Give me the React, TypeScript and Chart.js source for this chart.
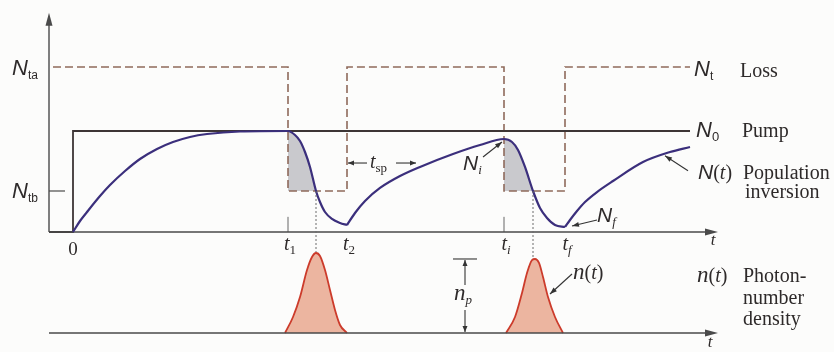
import { useEffect, useRef } from 'react';
import { Chart, registerables } from 'chart.js';

Chart.register(...registerables);

const W = 834;
const H = 352;

// ---- time marks (arbitrary time units) ----
const eventLabels = ['0', 't1', 't2', 'ti', 'tf'];
const eventTimes = [0, 10.75, 13.7, 21.55, 24.6];
const pulsePeakTimes = [12.15, 23.0];
const tEnd = 30.85;
const axisStart = -1.2;
const axisEnd = 32.25;
const yAxisTop = 2.17;

// ---- levels (relative to N0) ----
const N0 = 1.0;
const Nta = 1.634;
const Ntb = 0.406;

// ---- loss (threshold) step: value taken after each time ----
const lossTimes = [-1.0, 10.75, 13.7, 21.55, 24.6, 30.85];
const lossValues = [Nta, Ntb, Nta, Ntb, Nta, Nta];

// ---- pump step ----
const pumpTimes = [axisStart, 0, tEnd];
const pumpValues = [0, N0, N0];

// ---- population inversion N(t) ----
const inversionA: [number, number][] = [
  [0, 0], [0.35, 0.109], [0.7, 0.198], [1.35, 0.356], [1.85, 0.465], [2.6, 0.604],
  [3.35, 0.723], [4.2, 0.822], [5.0, 0.891], [5.85, 0.941], [6.7, 0.97], [8.35, 0.995],
  [10.75, 1.0], [11.1, 0.96], [11.35, 0.901], [11.6, 0.792], [11.85, 0.644],
  [12.15, 0.406], [12.35, 0.297], [12.6, 0.198], [12.95, 0.129], [13.35, 0.089], [13.7, 0.069],
];
const inversionB: [number, number][] = [
  [13.7, 0.069], [14.1, 0.188], [14.6, 0.307], [15.35, 0.436], [16.35, 0.554],
  [17.35, 0.644], [19.0, 0.772], [20.35, 0.861], [21.55, 0.921], [21.95, 0.891],
  [22.25, 0.812], [22.6, 0.644], [23.0, 0.406], [23.35, 0.238], [23.7, 0.139],
  [24.1, 0.069], [24.6, 0.05],
];
const inversionC: [number, number][] = [
  [24.6, 0.05], [24.85, 0.119], [25.2, 0.208], [25.6, 0.297], [26.2, 0.396],
  [27.0, 0.505], [28.5, 0.693], [29.85, 0.792], [30.85, 0.842],
];

// ---- photon number density n(t) (relative to n_p) ----
const pulse1: [number, number][] = [
  [10.6, 0], [11.0, 0.216], [11.35, 0.486], [11.7, 0.851], [11.95, 1.027], [12.15, 1.081],
  [12.35, 1.041], [12.6, 0.851], [12.85, 0.581], [13.1, 0.311], [13.35, 0.108], [13.7, 0],
];
const pulse2: [number, number][] = [
  [21.65, 0], [22.1, 0.216], [22.45, 0.541], [22.7, 0.811], [22.95, 0.986], [23.1, 1.0],
  [23.3, 0.946], [23.5, 0.757], [23.75, 0.486], [24.1, 0.216], [24.5, 0],
];

const CURVE = '#3b2f7c';
const LOSS = '#8e695b';
const PUMP = '#3d3535';
const AXIS = '#4a4a4a';
const TEXT = '#2e2a2a';

const SERIF = '"Liberation Serif", "DejaVu Serif", serif';
const SANS = '"Liberation Sans", "DejaVu Sans", sans-serif';
const serif = (s: number, it = false) => `${it ? 'italic ' : ''}${s}px ${SERIF}`;
const sans = (s: number, it = false) => `${it ? 'italic ' : ''}${s}px ${SANS}`;

const pts = (a: [number, number][]) => a.map(([x, y]) => ({ x, y }));
const zip = (xs: number[], ys: number[]) => xs.map((x, i) => ({ x, y: ys[i] }));

type Run = [string, string, number?];

function drawRuns(ctx: CanvasRenderingContext2D, x: number, y: number, runs: Run[], align: 'left' | 'center' = 'left') {
  ctx.textAlign = 'left';
  ctx.textBaseline = 'alphabetic';
  const widths = runs.map(([t, f]) => {
    ctx.font = f;
    return ctx.measureText(t).width;
  });
  let cx = x;
  if (align === 'center') cx -= widths.reduce((a, b) => a + b, 0) / 2;
  runs.forEach(([t, f, dy], i) => {
    ctx.font = f;
    ctx.fillText(t, cx, y + (dy || 0));
    cx += widths[i];
  });
}

function arrowHead(ctx: CanvasRenderingContext2D, x1: number, y1: number, x2: number, y2: number, len: number, hw: number) {
  const a = Math.atan2(y2 - y1, x2 - x1);
  ctx.beginPath();
  ctx.moveTo(x2, y2);
  ctx.lineTo(x2 - len * Math.cos(a) + hw * Math.sin(a), y2 - len * Math.sin(a) - hw * Math.cos(a));
  ctx.lineTo(x2 - len * Math.cos(a) - hw * Math.sin(a), y2 - len * Math.sin(a) + hw * Math.cos(a));
  ctx.closePath();
  ctx.fill();
}

function arrow(ctx: CanvasRenderingContext2D, x1: number, y1: number, x2: number, y2: number, len = 7, hw = 2.5) {
  ctx.beginPath();
  ctx.moveTo(x1, y1);
  ctx.lineTo(x2, y2);
  ctx.stroke();
  arrowHead(ctx, x1, y1, x2, y2, len, hw);
}

const overlay = {
  id: 'overlay',
  beforeDraw(chart: any) {
    const { ctx } = chart;
    ctx.save();
    ctx.fillStyle = '#fcfcfb';
    ctx.fillRect(0, 0, chart.width, chart.height);
    ctx.restore();
  },
  afterDatasetsDraw(chart: any) {
    const { ctx, scales } = chart;
    const X = (v: number) => scales.x.getPixelForValue(v);
    const Y = (v: number) => scales.y.getPixelForValue(v);
    const Y2 = (v: number) => scales.y2.getPixelForValue(v);
    ctx.save();

    // axis arrowheads
    ctx.fillStyle = AXIS;
    arrowHead(ctx, X(axisStart), Y(0), X(axisStart), Y(yAxisTop), 13, 3.5);
    arrowHead(ctx, X(axisStart), Y(0), X(axisEnd), Y(0), 13, 3.5);
    arrowHead(ctx, X(axisStart), Y2(0), X(axisEnd), Y2(0), 13, 3.5);

    // dotted lines from threshold crossing to photon peaks
    ctx.strokeStyle = '#6a6a6a';
    ctx.lineWidth = 1;
    ctx.setLineDash([2, 2]);
    const peaks = [pulse1, pulse2].map((p) => Math.max(...p.map((q) => q[1])));
    pulsePeakTimes.forEach((pt, i) => {
      ctx.beginPath();
      ctx.moveTo(X(pt), Y(Ntb));
      ctx.lineTo(X(pt), Y2(peaks[i]) - 1);
      ctx.stroke();
    });
    ctx.setLineDash([]);

    ctx.fillStyle = TEXT;
    // left labels
    drawRuns(ctx, 12, Y(Nta) + 8, [['N', sans(22, true)], ['ta', sans(12), 4]]);
    drawRuns(ctx, 12, Y(Ntb) + 7, [['N', sans(22, true)], ['tb', sans(12), 4]]);

    // right labels
    const rx = X(tEnd);
    drawRuns(ctx, rx + 4, Y(Nta) + 9, [['N', sans(22, true)], ['t', sans(12), 4]]);
    drawRuns(ctx, rx + 6, Y(N0) + 6, [['N', sans(22, true)], ['0', sans(13), 4]]);
    ctx.font = serif(20);
    ctx.fillText('Loss', rx + 50, Y(Nta) + 10);
    ctx.fillText('Pump', rx + 52, Y(N0) + 6);
    drawRuns(ctx, rx + 8, 179, [['N', sans(21, true)], ['(', serif(20)], ['t', serif(20, true)], [')', serif(20)]]);
    ctx.font = serif(20);
    ctx.fillText('Population', rx + 53, 179);
    ctx.fillText('inversion', rx + 55, 198);
    drawRuns(ctx, rx + 7, Y2(0) - 51, [['n', serif(23, true)], ['(', serif(20)], ['t', serif(20, true)], [')', serif(20)]]);
    ctx.font = serif(20);
    ctx.fillText('Photon-', rx + 53, Y2(0) - 51);
    ctx.fillText('number', rx + 53, Y2(0) - 29);
    ctx.fillText('density', rx + 53, Y2(0) - 8);

    // time labels
    eventLabels.forEach((lab, i) => {
      const x = X(eventTimes[i]);
      if (lab === '0') {
        drawRuns(ctx, x, Y(0) + 23, [['0', serif(19)]], 'center');
      } else {
        const sub = lab.slice(1);
        const subFont = /\d/.test(sub) ? serif(13) : serif(13, true);
        drawRuns(ctx, x + 2, Y(0) + 18, [['t', serif(20, true)], [sub, subFont, 4]], 'center');
      }
    });
    drawRuns(ctx, X(axisEnd) - 5, Y(0) + 13, [['t', serif(17, true)]], 'center');
    drawRuns(ctx, X(axisEnd) - 8, Y2(0) + 14, [['t', serif(17, true)]], 'center');

    // N_i and N_f
    ctx.strokeStyle = '#333';
    ctx.fillStyle = '#333';
    ctx.lineWidth = 1.1;
    const iTop = Y(0.921);
    arrow(ctx, X(eventTimes[3]) - 21, iTop + 18, X(eventTimes[3]) - 2, iTop + 3);
    arrow(ctx, X(eventTimes[4]) + 32, Y(0.05) - 7, X(eventTimes[4]) + 7, Y(0.05) - 1);
    // N(t) arrow
    arrow(ctx, X(29.6) + 23, Y(0.775) + 17, X(29.6), Y(0.775) + 2);
    // n(t) arrow
    arrow(ctx, X(23.85) + 22, Y2(0.527) - 20, X(23.85), Y2(0.527));

    ctx.fillStyle = TEXT;
    drawRuns(ctx, X(eventTimes[3]) - 41, iTop + 31, [['N', sans(21, true)], ['i', serif(13, true), 4]]);
    drawRuns(ctx, X(eventTimes[4]) + 32, Y(0.05) - 5, [['N', sans(21, true)], ['f', serif(13, true), 4]]);
    drawRuns(ctx, X(23.85) + 23, Y2(0) - 54, [['n', serif(23, true)], ['(', serif(20)], ['t', serif(20, true)], [')', serif(20)]]);

    // t_sp annotation
    ctx.strokeStyle = '#333';
    ctx.fillStyle = '#333';
    const spY = Y(0.683);
    const spL = X(eventTimes[2]) + 1;
    arrow(ctx, spL + 19, spY, spL, spY, 6, 2.5);
    arrow(ctx, spL + 48, spY, spL + 68, spY, 6, 2.5);
    ctx.fillStyle = TEXT;
    drawRuns(ctx, spL + 22, spY + 5, [['t', serif(20, true)], ['sp', serif(13), 4]]);

    // n_p annotation
    ctx.strokeStyle = '#333';
    ctx.fillStyle = '#333';
    const npX = X(19.6);
    const npTop = Y2(1.0);
    const npBot = Y2(0);
    ctx.beginPath();
    ctx.moveTo(npX - 12, npTop);
    ctx.lineTo(npX + 12, npTop);
    ctx.stroke();
    arrow(ctx, npX, npTop + 26, npX, npTop + 1, 6, 2.5);
    arrow(ctx, npX, npBot - 23, npX, npBot - 1, 6, 2.5);
    ctx.fillStyle = TEXT;
    drawRuns(ctx, npX - 11, npTop + 41, [['n', serif(23, true)], ['p', serif(13, true), 4]]);

    ctx.restore();
  },
};

export default function App() {
  const ref = useRef<HTMLCanvasElement | null>(null);

  useEffect(() => {
    document.body.style.margin = '0';
    const canvas = ref.current;
    if (!canvas) return;

    const line = (data: { x: number; y: number }[], extra: any = {}) => ({
      type: 'line',
      data,
      pointRadius: 0,
      pointHoverRadius: 0,
      borderWidth: 1.5,
      fill: false,
      tension: 0,
      ...extra,
    });
    const smooth = { cubicInterpolationMode: 'monotone' };

    const t1 = eventTimes[1];
    const ti = eventTimes[3];
    const grayA = inversionA.filter(([t]) => t >= t1 && t <= pulsePeakTimes[0]);
    const grayB = inversionB.filter(([t]) => t >= ti && t <= pulsePeakTimes[1]);

    const datasets: any[] = [
      line(pts(grayA), { ...smooth, borderWidth: 0, fill: { value: Ntb }, backgroundColor: '#c9c9cd', order: 20 }),
      line(pts(grayB), { ...smooth, borderWidth: 0, fill: { value: Ntb }, backgroundColor: '#c9c9cd', order: 20 }),
      line(pts(pulse1), { ...smooth, yAxisID: 'y2', fill: 'origin', backgroundColor: '#ecb5a0', borderColor: '#cc3b2b', borderWidth: 1.8, order: 6 }),
      line(pts(pulse2), { ...smooth, yAxisID: 'y2', fill: 'origin', backgroundColor: '#ecb5a0', borderColor: '#cc3b2b', borderWidth: 1.8, order: 6 }),
      line(zip(lossTimes, lossValues), { stepped: 'before', borderDash: [8, 4], borderColor: LOSS, borderWidth: 1.6, order: 5 }),
      line(zip(pumpTimes, pumpValues), { stepped: 'before', borderColor: PUMP, borderWidth: 1.8, order: 4 }),
      // axes
      line([{ x: axisStart, y: 0 }, { x: axisStart, y: yAxisTop - 0.05 }], { borderColor: AXIS, borderWidth: 1.4, order: 3 }),
      line([{ x: axisStart, y: 0 }, { x: axisEnd - 0.3, y: 0 }], { borderColor: AXIS, borderWidth: 1.4, order: 3 }),
      line([{ x: axisStart, y: 0 }, { x: axisEnd - 0.3, y: 0 }], { yAxisID: 'y2', borderColor: AXIS, borderWidth: 1.4, order: 3 }),
      // ticks
      line([{ x: axisStart, y: Ntb }, { x: axisStart + 0.8, y: Ntb }], { borderColor: AXIS, borderWidth: 1.2, order: 3 }),
      line([{ x: t1, y: 0 }, { x: t1, y: 0.15 }], { borderColor: '#666', borderWidth: 1, order: 3 }),
      line([{ x: ti, y: 0 }, { x: ti, y: 0.15 }], { borderColor: '#666', borderWidth: 1, order: 3 }),
      // N(t)
      line(pts(inversionA), { ...smooth, borderColor: CURVE, borderWidth: 2.2, order: 1 }),
      line(pts(inversionB), { ...smooth, borderColor: CURVE, borderWidth: 2.2, order: 1 }),
      line(pts(inversionC), { ...smooth, borderColor: CURVE, borderWidth: 2.2, order: 1 }),
    ];

    const chart = new Chart(canvas, {
      type: 'line',
      data: { datasets },
      options: {
        animation: false,
        responsive: false,
        devicePixelRatio: 1,
        layout: { padding: 0 },
        events: [],
        plugins: { legend: { display: false }, tooltip: { enabled: false }, title: { display: false } },
        scales: {
          x: { type: 'linear', display: false, min: -3.65, max: 38.05 },
          y: { type: 'linear', display: false, min: -1.188, max: 2.297 },
          y2: { type: 'linear', display: false, min: -0.257, max: 4.5 },
        },
      } as any,
      plugins: [overlay as any],
    } as any);

    return () => chart.destroy();
  }, []);

  return (
    <div style={{ position: 'absolute', left: 0, top: 0, width: W, height: H }}>
      <canvas ref={ref} width={W} height={H} style={{ display: 'block', width: W, height: H }} />
    </div>
  );
}
